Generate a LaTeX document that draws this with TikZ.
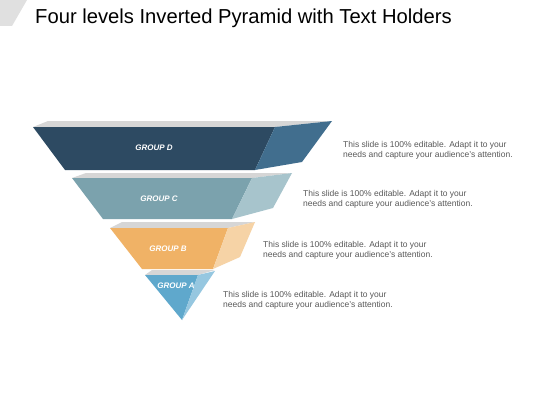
\documentclass[tikz,border=0pt]{standalone}
\usepackage{fontspec}
\setmainfont{Liberation Sans}
\definecolor{dFront}{HTML}{2D4A62}
\definecolor{dSide}{HTML}{416E8E}
\definecolor{cFront}{HTML}{7BA2AD}
\definecolor{cSide}{HTML}{A7C4CC}
\definecolor{bFront}{HTML}{F0B266}
\definecolor{bSide}{HTML}{F6D3A6}
\definecolor{aFront}{HTML}{5FA8CC}
\definecolor{aSide}{HTML}{96C7E0}
\definecolor{topband}{HTML}{D6D6D6}
\definecolor{corner}{HTML}{E0E0E0}
\definecolor{bodytext}{HTML}{595959}
\tikzset{
  grouplabel/.style={text=white, font=\fontsize{8}{9.6}\selectfont\bfseries\itshape, inner sep=0pt},
  desc/.style={text=bodytext, font=\fontsize{8.5}{10.5}\selectfont, align=left, anchor=north west, inner sep=0pt},
}
\begin{document}
\begin{tikzpicture}[x=1pt,y=-1pt]
\useasboundingbox (0,0) rectangle (560,420);
\fill[white] (0,0) rectangle (560,420);
% corner decoration
\fill[corner] (0,0) -- (27,0) -- (12,26) -- (0,26) -- cycle;
% title
\node[anchor=base west, inner sep=0pt, font=\fontsize{20.2}{24}\selectfont] (title) at (35,24) {Four levels Inverted Pyramid with Text Holders};
% Layer D
\fill[topband] (33,127) -- (48,121) -- (332,121) -- (275,127) -- cycle;
\fill[dFront] (33,127) -- (275,127) -- (255,170) -- (65,170) -- cycle;
\fill[dSide] (275,127) -- (332,121) -- (302,162) -- (255,170) -- cycle;
% Layer C
\fill[topband] (72,178) -- (86,173) -- (292,173) -- (252,178) -- cycle;
\fill[cFront] (72,178) -- (252,178) -- (232,219) -- (103,219) -- cycle;
\fill[cSide] (252,178) -- (292,173) -- (273,208) -- (232,219) -- cycle;
% Layer B
\fill[topband] (110,228) -- (122,222) -- (255,222) -- (228,228) -- cycle;
\fill[bFront] (110,228) -- (228,228) -- (213,269) -- (142,269) -- cycle;
\fill[bSide] (228,228) -- (255,222) -- (240,257) -- (213,269) -- cycle;
% Layer A
\fill[topband] (145,275) -- (152,270) -- (215,270) -- (198,275) -- cycle;
\fill[aFront] (145,275) -- (198,275) -- (182,320) -- cycle;
\fill[aSide] (198,275) -- (215,271) -- (182,320) -- cycle;
% labels
\node[grouplabel] (gd) at (154,148) {GROUP D};
\node[grouplabel] (gc) at (159,199) {GROUP C};
\node[grouplabel] (gb) at (168,249) {GROUP B};
\node[grouplabel] (ga) at (176,286) {GROUP A};
% descriptions
\node[desc] (td) at (343,141) {This slide is 100\% editable.  Adapt it to your\\needs and capture your audience's attention.};
\node[desc] (tc) at (303,190) {This slide is 100\% editable.  Adapt it to your\\needs and capture your audience's attention.};
\node[desc] (tb) at (263,241) {This slide is 100\% editable.  Adapt it to your\\needs and capture your audience's attention.};
\node[desc] (ta) at (223,291) {This slide is 100\% editable.  Adapt it to your\\needs and capture your audience's attention.};
\end{tikzpicture}
\end{document}
